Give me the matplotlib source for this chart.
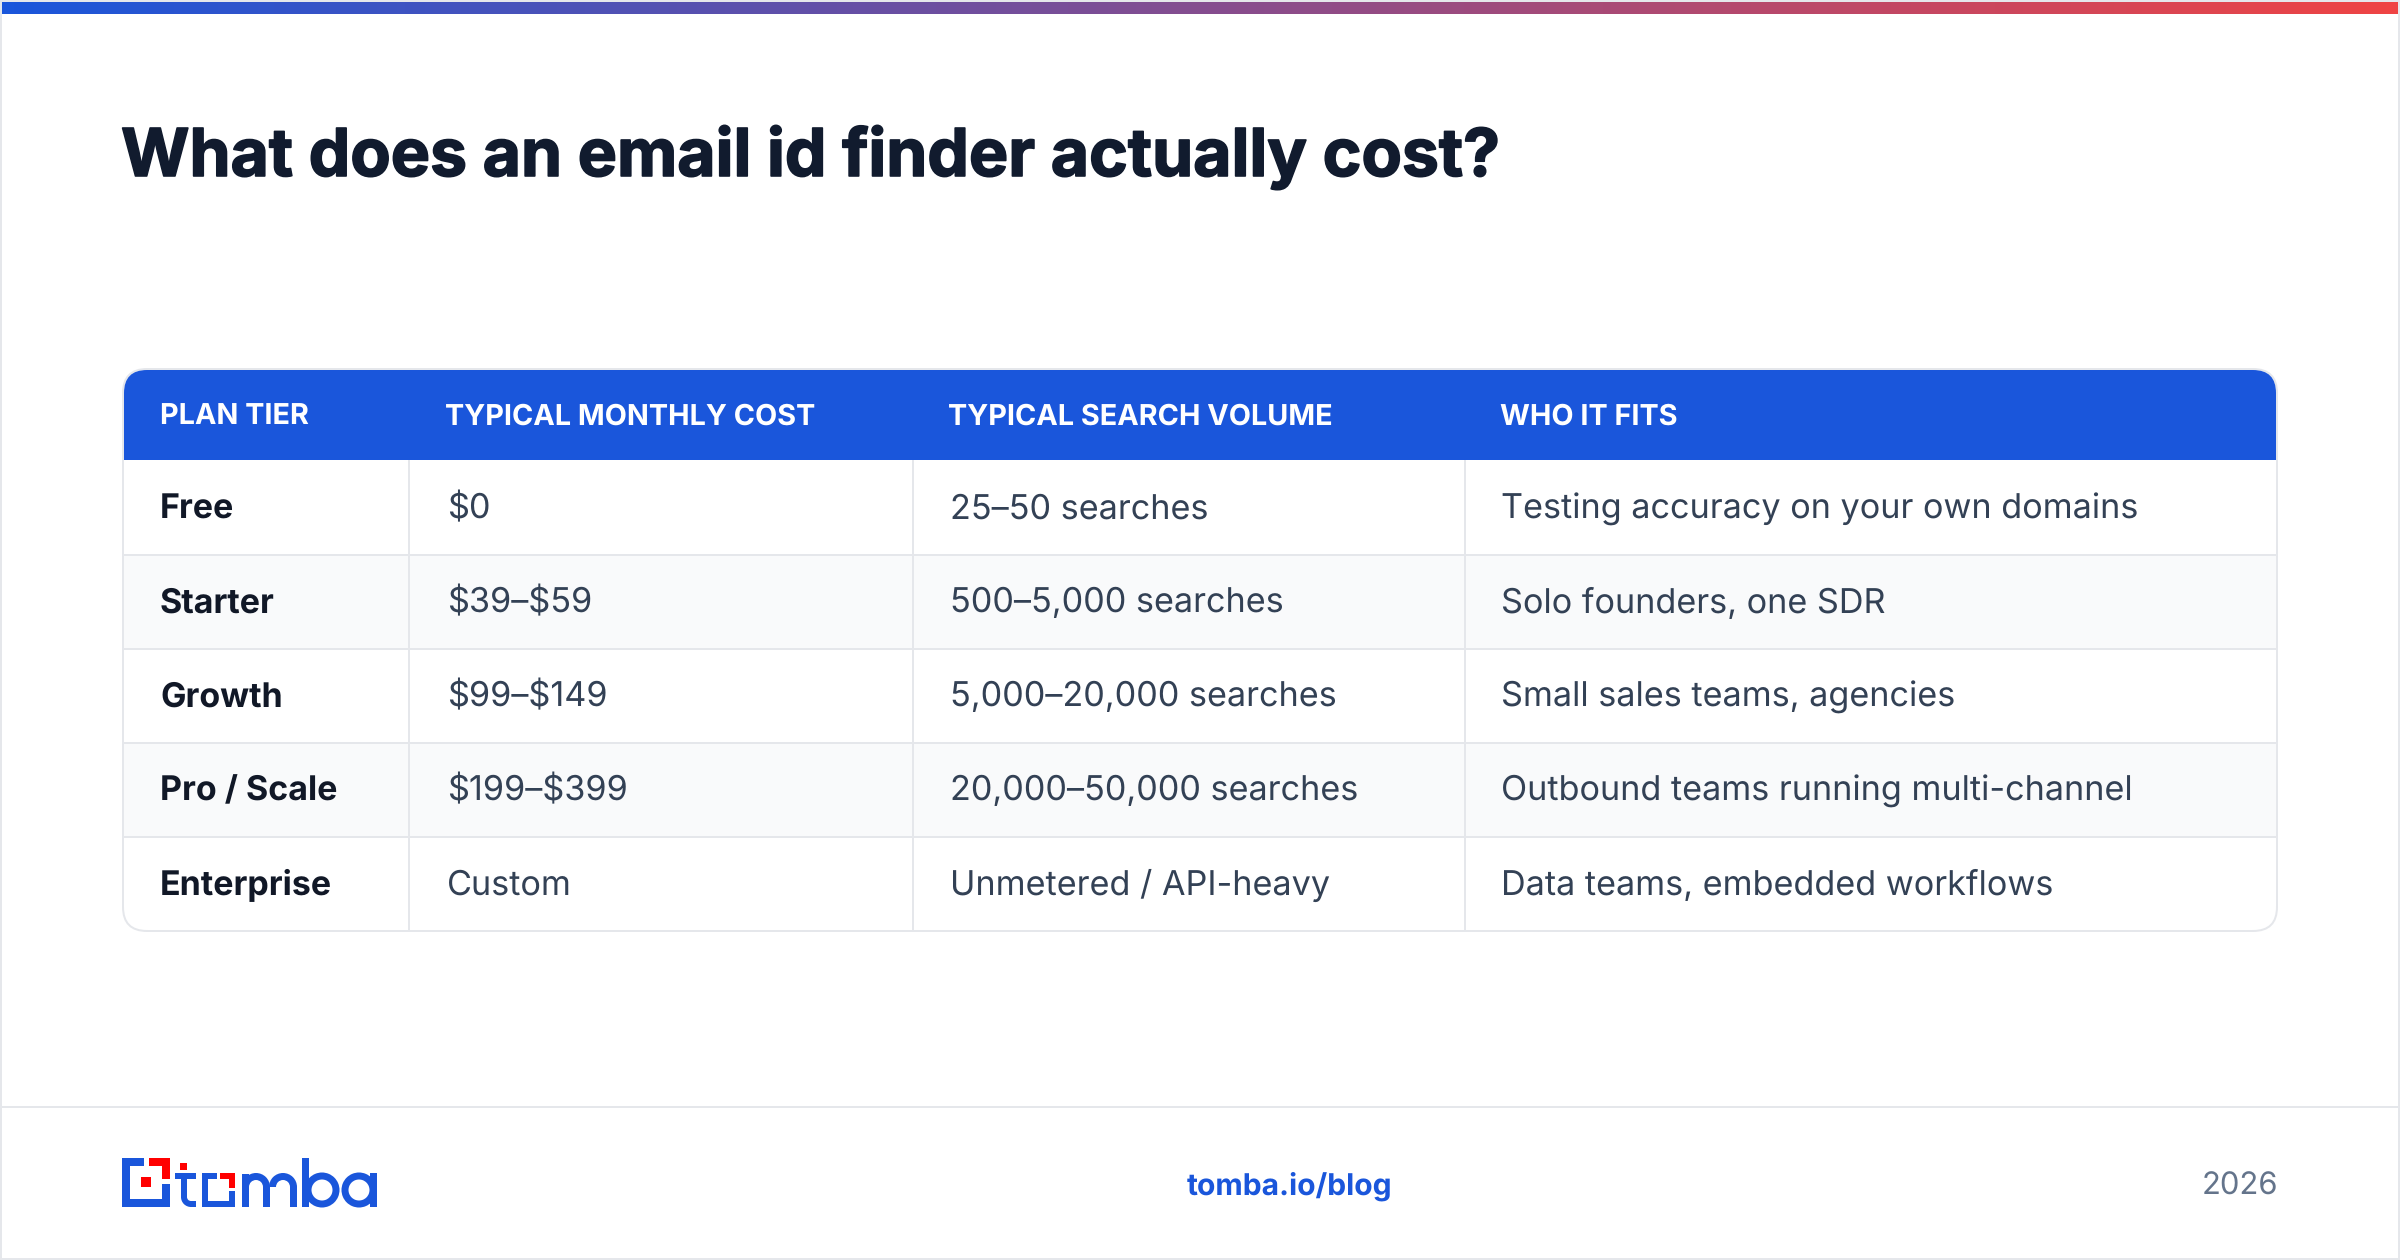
import numpy as np
import matplotlib
matplotlib.use("Agg")
import matplotlib.pyplot as plt
import matplotlib.patheffects as pe
from matplotlib.patches import Rectangle, FancyBboxPatch, Wedge
from matplotlib.colors import LinearSegmentedColormap

plt.rcParams['font.family'] = ['Inter', 'DejaVu Sans']
plt.rcParams['text.parse_math'] = False
plt.rcParams['text.hinting'] = 'no_hinting'
plt.rcParams['text.hinting_factor'] = 1

# content
title = "What does an email id finder actually cost?"
headers = ["PLAN TIER", "TYPICAL MONTHLY COST", "TYPICAL SEARCH VOLUME", "WHO IT FITS"]
plans = ["Free", "Starter", "Growth", "Pro / Scale", "Enterprise"]
costs = ["$0", "$39–$59", "$99–$149", "$199–$399", "Custom"]
volumes = ["25–50 searches", "500–5,000 searches", "5,000–20,000 searches",
           "20,000–50,000 searches", "Unmetered / API-heavy"]
fits = ["Testing accuracy on your own domains", "Solo founders, one SDR",
        "Small sales teams, agencies", "Outbound teams running multi-channel",
        "Data teams, embedded workflows"]
footer_link = "tomba.io/blog"
footer_year = "2026"

BLUE = "#1a56db"
RED = "#ff0000"
LINE = "#e5e7eb"
PX = 72 / 100  # css pixel to points at dpi 100

fig = plt.figure(figsize=(24, 12.6), dpi=100)
ax = fig.add_axes([0, 0, 1, 1])
ax.set_xlim(0, 2400)
ax.set_ylim(1260, 0)
ax.axis("off")


def rect(x0, y0, x1, y1, color, z=2):
    p = Rectangle((x0, y0), x1 - x0, y1 - y0, fc=color, ec="none", zorder=z)
    ax.add_patch(p)
    return p


def ring(cx, cy, r, t1=0, t2=360, width=7):
    ax.add_patch(Wedge((cx, cy), r, t1, t2, width=width, fc=BLUE, ec="none", zorder=2))


# outer frame
rect(0, 0, 2400, 1260, LINE, 0)
rect(2, 2, 2398, 1258, "white", 0.5)

# gradient strip
cmap = LinearSegmentedColormap.from_list("strip", [BLUE, "#ef4444"])
ax.imshow(np.linspace(0, 1, 600).reshape(1, -1), cmap=cmap, aspect="auto",
          extent=(2, 2398, 14, 2), zorder=1)
ax.set_xlim(0, 2400)
ax.set_ylim(1260, 0)

# footer rule
rect(2, 1106, 2398, 1108, LINE, 1)

# title, stroked a little because only the bold cut is there
ax.text(121, 176, title, fontsize=66 * PX, fontweight="bold", color="#111b2e", va="baseline",
        path_effects=[pe.withStroke(linewidth=1.6 * PX, foreground="#111b2e")])

# table
tx0, tx1, ty0, ty1 = 123, 2277, 369, 931
head_bottom = 460
row_h = 94
col_lines = [409, 913, 1465]
head_x = [160, 445, 948, 1500]
body_x = [160, 447, 950, 1501]

card = FancyBboxPatch((tx0 + 1, ty0 + 1), tx1 - tx0 - 2, ty1 - ty0 - 2,
                      boxstyle="round,pad=0,rounding_size=23", fc="white", ec="none", zorder=1.5)
ax.add_patch(card)

clipped = []
for i in range(len(plans)):
    top = head_bottom + i * row_h
    if i % 2 == 1:
        clipped.append(rect(tx0, top, tx1, top + row_h, "#f9fafb", 1.6))
    if i < len(plans) - 1:
        clipped.append(rect(tx0, top + row_h, tx1, top + row_h + 2, LINE, 1.8))
for x in col_lines:
    clipped.append(rect(x - 1, head_bottom, x + 1, ty1, LINE, 1.8))
clipped.append(rect(tx0, ty0, tx1, head_bottom, BLUE, 2))
for p in clipped:
    p.set_clip_path(card)

border = FancyBboxPatch((tx0, ty0), tx1 - tx0, ty1 - ty0, boxstyle="round,pad=0,rounding_size=24",
                        fc="none", ec=LINE, lw=2 * PX, zorder=1.9)
ax.add_patch(border)

for x, h in zip(head_x, headers):
    ax.text(x, 414, h, fontsize=28.8 * PX, fontweight="bold", color="white", va="center_baseline", zorder=3)

columns = [plans, costs, volumes, fits]
for c, (x, col) in enumerate(zip(body_x, columns)):
    for i, s in enumerate(col):
        y = head_bottom + (i + 0.5) * row_h - 1
        if c == 0:
            ax.text(x, y, s, fontsize=34 * PX, fontweight="bold", color="#111827", va="center_baseline", zorder=3)
        else:
            ax.text(x, y, s, fontsize=34.2 * PX, color="#334155", va="center_baseline", zorder=3)

ax.text(1289.5, 1183, footer_link, fontsize=30 * PX, fontweight="bold", color=BLUE, ha="center",
        va="center_baseline")
ax.text(2278, 1183, footer_year, fontsize=31 * PX, color="#64748b", ha="right", va="center_baseline")

# logo: bracket mark
rect(122, 1158, 144, 1166, BLUE)
rect(122, 1158, 130, 1207, BLUE)
rect(122, 1199, 170, 1207, BLUE)
rect(162, 1184, 170, 1207, BLUE)
rect(149, 1158, 170, 1166, RED)
rect(162, 1158, 170, 1179, RED)
rect(141, 1177, 151, 1187, RED)
# t
rect(180, 1163, 187, 1170, RED)
rect(175, 1173, 196, 1179, BLUE)
rect(181, 1173, 187, 1197, BLUE)
ring(191, 1197, 10, 90, 180, 6)
rect(191, 1201, 196, 1207, BLUE)
# square o
rect(202, 1173, 217, 1179, BLUE)
rect(202, 1173, 208, 1207, BLUE)
rect(202, 1201, 235, 1207, BLUE)
rect(229, 1191, 235, 1207, BLUE)
rect(220, 1173, 235, 1179, RED)
rect(229, 1173, 235, 1188, RED)
# m
rect(242, 1174, 249, 1207, BLUE)
ring(256, 1187, 14, 180, 360)
rect(263, 1187, 270, 1207, BLUE)
ring(283, 1187, 14, 180, 360)
rect(290, 1187, 297, 1207, BLUE)
# b
rect(302, 1158, 309, 1207, BLUE)
ring(322, 1190, 17.5)
# a
ring(359, 1190, 17.5)
rect(369.5, 1173, 376.5, 1207, BLUE)

fig.savefig("out.png", dpi=100)
